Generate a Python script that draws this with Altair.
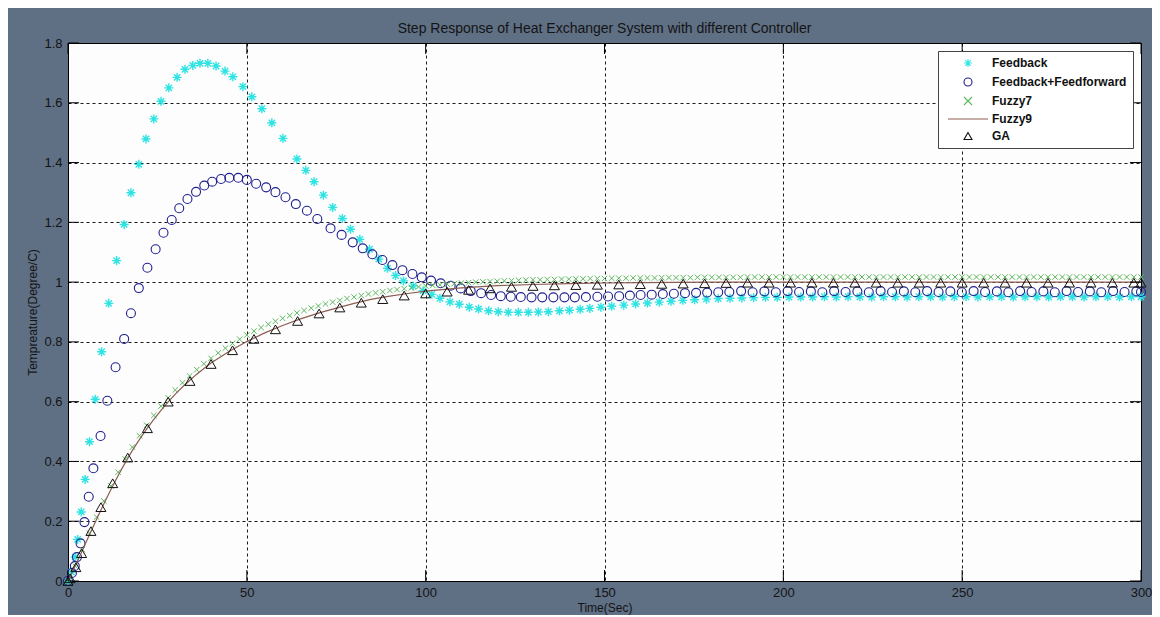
import altair as alt
import pandas as pd

SERIES = ["Feedback", "Feedback+Feedforward", "Fuzzy7", "Fuzzy9", "GA"]
COLORS = ["#2FE3E3", "#1F1F8F", "#5CB85C", "#8B5E52", "#111111"]
ASTERISK = "M-1,0L1,0M0,-1L0,1M-0.7,-0.7L0.7,0.7M-0.7,0.7L0.7,-0.7"
XMARK = "M-1,-1L1,1M-1,1L1,-1"
LINESYM = "M-5,0L5,0"
SHAPES = [ASTERISK, "circle", XMARK, LINESYM, "triangle-up"]
X_TICKS = [0, 50, 100, 150, 200, 250, 300]
Y_TICKS = [0, 0.2, 0.4, 0.6, 0.8, 1, 1.2, 1.4, 1.6, 1.8]

FEEDBACK = [
    (0, 0), (1.0, 0.030), (2.0, 0.080), (2.7, 0.139), (3.7, 0.231), (4.8, 0.340), (6.0, 0.466),
    (7.6, 0.608), (9.4, 0.767), (11.4, 0.929), (13.6, 1.072), (15.7, 1.193), (17.6, 1.299),
    (19.8, 1.394), (21.8, 1.479), (24.0, 1.546), (26.0, 1.605), (28.2, 1.650), (30.5, 1.685),
    (32.7, 1.712), (34.9, 1.725), (36.9, 1.732), (39.1, 1.732), (41.4, 1.723), (43.9, 1.706),
    (46.1, 1.687), (48.9, 1.654), (51.4, 1.620), (54.2, 1.580), (57.0, 1.533), (60.1, 1.481),
    (64.0, 1.412), (66.5, 1.374), (68.8, 1.336), (71.4, 1.291), (74.0, 1.250), (76.7, 1.213),
    (79.0, 1.177), (81.6, 1.143), (84.3, 1.110), (86.9, 1.077), (89.3, 1.046), (91.6, 1.022),
    (93.8, 1.004), (96.5, 0.987), (99.3, 0.971), (101.7, 0.959), (104.0, 0.946), (106.8, 0.934),
    (109.4, 0.926), (112.2, 0.916), (114.8, 0.910), (117.6, 0.904), (120.3, 0.901), (123.1, 0.899),
    (125.9, 0.899), (128.7, 0.899), (131.5, 0.900), (134.3, 0.901), (137.4, 0.904), (140.2, 0.906),
    (143.2, 0.909), (145.9, 0.912), (149.0, 0.916), (152.0, 0.919), (155.4, 0.923), (158.7, 0.927),
    (162.0, 0.930), (165.3, 0.933), (168.6, 0.936), (171.9, 0.939), (175.2, 0.941), (178.5, 0.943),
    (181.8, 0.945), (185.1, 0.946), (188.4, 0.947), (191.7, 0.948), (195.0, 0.949), (198.3, 0.949),
    (201.6, 0.950), (204.9, 0.950), (208.2, 0.950), (211.5, 0.951), (214.8, 0.950), (218.1, 0.951),
    (221.4, 0.951), (224.7, 0.950), (228.0, 0.951), (231.3, 0.951), (234.6, 0.950), (237.9, 0.951),
    (241.2, 0.951), (244.5, 0.950), (247.8, 0.951), (251.1, 0.951), (254.4, 0.950), (257.7, 0.951),
    (261.0, 0.951), (264.3, 0.950), (267.6, 0.951), (270.9, 0.951), (274.2, 0.950), (277.5, 0.951),
    (280.8, 0.951), (284.1, 0.950), (287.4, 0.951), (290.7, 0.951), (294.0, 0.950), (297.3, 0.951),
    (300.0, 0.951),
]

FEEDFORWARD = [
    (0, 0), (1.1, 0.027), (1.9, 0.050), (2.5, 0.080), (3.5, 0.126), (4.6, 0.197), (5.8, 0.282),
    (7.1, 0.377), (9.1, 0.485), (11.0, 0.603), (13.3, 0.715), (15.7, 0.810), (17.6, 0.896),
    (19.8, 0.980), (22.2, 1.048), (24.5, 1.110), (26.7, 1.165), (29.0, 1.208), (31.1, 1.247),
    (33.4, 1.278), (35.8, 1.302), (38.1, 1.323), (40.3, 1.336), (42.8, 1.345), (45.1, 1.349),
    (47.6, 1.349), (50.0, 1.342), (52.6, 1.329), (55.4, 1.317), (58.0, 1.301), (60.8, 1.284),
    (63.7, 1.261), (66.8, 1.239), (69.7, 1.211), (73.4, 1.180), (76.5, 1.158), (79.6, 1.133),
    (82.4, 1.113), (85.1, 1.093), (87.9, 1.074), (90.7, 1.057), (93.5, 1.040), (96.3, 1.027),
    (98.9, 1.016), (101.5, 1.005), (104.2, 0.996), (107.0, 0.988), (109.8, 0.979), (112.6, 0.970),
    (115.5, 0.963), (118.3, 0.957), (121.0, 0.953), (123.8, 0.951), (126.6, 0.950), (129.6, 0.949),
    (132.6, 0.949), (135.7, 0.949), (138.8, 0.949), (141.7, 0.949), (144.8, 0.950), (148.0, 0.951),
    (151.0, 0.952), (154.1, 0.953), (157.1, 0.955), (160.1, 0.957), (163.2, 0.958), (166.3, 0.960),
    (169.4, 0.961), (172.5, 0.963), (175.6, 0.964), (178.7, 0.965), (181.8, 0.966), (184.9, 0.967),
    (188.2, 0.970), (191.4, 0.966), (194.7, 0.969), (197.9, 0.966), (201.2, 0.970), (204.4, 0.967),
    (207.7, 0.969), (210.9, 0.966), (214.2, 0.970), (217.4, 0.967), (220.7, 0.969), (223.9, 0.966),
    (227.2, 0.970), (230.4, 0.967), (233.7, 0.969), (236.9, 0.966), (240.2, 0.970), (243.4, 0.967),
    (246.7, 0.969), (249.9, 0.966), (253.2, 0.970), (256.4, 0.967), (259.7, 0.969), (262.9, 0.966),
    (266.2, 0.970), (269.4, 0.967), (272.7, 0.969), (275.9, 0.966), (279.2, 0.970), (282.4, 0.967),
    (285.7, 0.969), (288.9, 0.966), (292.2, 0.970), (295.4, 0.967), (298.7, 0.969), (300.0, 0.967),
]

FUZZY7 = [
    (0, 0.000), (2, 0.050), (4, 0.105), (6, 0.160), (8, 0.214), (10, 0.268), (12, 0.318),
    (14, 0.364), (16, 0.408), (18, 0.448), (20, 0.486), (22, 0.521), (24, 0.554), (26, 0.585),
    (28, 0.613), (30, 0.639), (32, 0.663), (34, 0.686), (36, 0.707), (38, 0.727), (40, 0.745),
    (42, 0.763), (44, 0.779), (46, 0.795), (48, 0.809), (50, 0.823), (52, 0.836), (54, 0.848),
    (56, 0.859), (58, 0.869), (60, 0.879), (62, 0.888), (64, 0.897), (66, 0.905), (68, 0.913),
    (70, 0.920), (72, 0.927), (74, 0.933), (76, 0.939), (78, 0.945), (80, 0.950), (82, 0.955),
    (84, 0.960), (86, 0.964), (88, 0.968), (90, 0.972), (92, 0.975), (94, 0.978), (96, 0.981),
    (98, 0.984), (100, 0.987), (102, 0.989), (104, 0.991), (106, 0.993), (108, 0.995), (110, 0.997),
    (112, 0.998), (114, 1.000), (116, 1.001), (118, 1.002), (120, 1.003), (122, 1.004), (124, 1.005),
    (126, 1.006), (128, 1.007), (130, 1.008), (132, 1.008), (134, 1.009), (136, 1.009), (138, 1.010),
    (140, 1.010), (142, 1.011), (144, 1.011), (146, 1.012), (148, 1.012), (150, 1.012), (152, 1.013),
    (154, 1.013), (156, 1.013), (158, 1.014), (160, 1.014), (162, 1.014), (164, 1.014), (166, 1.015),
    (168, 1.015), (170, 1.015), (172, 1.015), (174, 1.015), (176, 1.016), (178, 1.016), (180, 1.016),
    (182, 1.016), (184, 1.016), (186, 1.016), (188, 1.016), (190, 1.017), (192, 1.017), (194, 1.017),
    (196, 1.017), (198, 1.017), (200, 1.017), (202, 1.017), (204, 1.017), (206, 1.017), (208, 1.017),
    (210, 1.017), (212, 1.017), (214, 1.017), (216, 1.017), (218, 1.017), (220, 1.017), (222, 1.017),
    (224, 1.017), (226, 1.017), (228, 1.017), (230, 1.017), (232, 1.017), (234, 1.017), (236, 1.017),
    (238, 1.017), (240, 1.017), (242, 1.017), (244, 1.017), (246, 1.017), (248, 1.017), (250, 1.017),
    (252, 1.017), (254, 1.017), (256, 1.017), (258, 1.017), (260, 1.017), (262, 1.017), (264, 1.017),
    (266, 1.017), (268, 1.017), (270, 1.017), (272, 1.017), (274, 1.017), (276, 1.017), (278, 1.017),
    (280, 1.017), (282, 1.017), (284, 1.017), (286, 1.017), (288, 1.017), (290, 1.017), (292, 1.017),
    (294, 1.017), (296, 1.017), (298, 1.017), (300, 1.017),
]

FUZZY9 = [
    (0, 0.000), (2, 0.050), (4, 0.102), (6, 0.155), (8, 0.207), (10, 0.258), (12, 0.306),
    (14, 0.352), (16, 0.396), (18, 0.437), (20, 0.474), (22, 0.509), (24, 0.541), (26, 0.571),
    (28, 0.599), (30, 0.625), (32, 0.649), (34, 0.671), (36, 0.692), (38, 0.711), (40, 0.729),
    (45, 0.768), (50, 0.801), (55, 0.830), (60, 0.855), (65, 0.877), (70, 0.896), (75, 0.913),
    (80, 0.929), (85, 0.943), (90, 0.953), (95, 0.962), (100, 0.970), (110, 0.981), (120, 0.988),
    (130, 0.992), (140, 0.995), (150, 0.997), (160, 0.998), (170, 0.999), (180, 1.000),
    (200, 1.000), (225, 1.000), (250, 1.000), (275, 1.000), (300, 1.000),
]

GA = [
    (0, 0.000), (0.6, 0.009), (2.2, 0.046), (3.8, 0.093), (6.4, 0.167), (9.2, 0.247), (12.5, 0.327),
    (16.7, 0.413), (22.2, 0.511), (28.0, 0.600), (34.1, 0.669), (40.0, 0.726), (46.0, 0.772),
    (52.0, 0.810), (58.0, 0.842), (64.2, 0.870), (70.2, 0.895), (76.0, 0.915), (82.0, 0.931),
    (88.0, 0.943), (94.0, 0.955), (100.0, 0.962), (106.0, 0.968), (112.0, 0.974), (118.0, 0.979),
    (124.0, 0.984), (130.0, 0.987), (136.0, 0.989), (142.0, 0.990), (148.0, 0.991), (154.0, 0.992),
    (160.0, 0.993), (166.0, 0.994), (172.0, 0.995), (178.0, 0.996), (184.0, 0.997), (190.0, 0.998),
    (196.0, 0.998), (202.0, 0.998), (208.0, 0.998), (214.0, 0.998), (220.0, 0.998), (226.0, 0.998),
    (232.0, 0.998), (238.0, 0.998), (244.0, 0.998), (250.0, 0.998), (256.0, 0.998), (262.0, 0.998),
    (268.0, 0.998), (274.0, 0.998), (280.0, 0.998), (286.0, 0.998), (292.0, 0.998), (298.0, 0.998),
    (300.0, 0.998),
]


def frame(name, pairs):
    return pd.DataFrame({"series": name, "t": [p[0] for p in pairs], "v": [p[1] for p in pairs]})


W, H = 1073, 538
TICK = 11
FONT = "Liberation Sans"
TXT = "#141414"

xsc = alt.Scale(domain=[0, 300], nice=False, zero=False)
ysc = alt.Scale(domain=[0, 1.8], nice=False, zero=False)

X = alt.X("t:Q", scale=xsc, axis=alt.Axis(values=X_TICKS, title="Time(Sec)", format="d"))
Y = alt.Y("v:Q", scale=ysc, axis=alt.Axis(values=Y_TICKS, title="Tempreature(Degree/C)", format="~g"))

legend = alt.Legend(
    title=None, orient="none", legendX=870, legendY=8,
    fillColor="white", strokeColor="#444444", padding=6, cornerRadius=0,
    symbolOffset=18, labelOffset=18, symbolSize=64, symbolStrokeWidth=1.1,
    labelFont=FONT, labelFontSize=12, labelFontWeight="bold", labelColor="#111111",
    rowPadding=5,
)
COLOR = alt.Color("series:N", scale=alt.Scale(domain=SERIES, range=COLORS), legend=legend)
SHAPE = alt.Shape("series:N", scale=alt.Scale(domain=SERIES, range=SHAPES), legend=legend)


def pts(name, pairs, size, sw):
    return alt.Chart(frame(name, pairs)).mark_point(
        filled=False, size=size, strokeWidth=sw, opacity=1
    ).encode(x=X, y=Y, color=COLOR, shape=SHAPE)


fb = pts("Feedback", FEEDBACK, 81, 1.4)
ff = pts("Feedback+Feedforward", FEEDFORWARD, 80, 1.1)
f7 = pts("Fuzzy7", FUZZY7, 30, 1.0)
ga = pts("GA", GA, 100, 1.0)

f9 = alt.Chart(frame("Fuzzy9", FUZZY9)).mark_line(
    color=COLORS[3], strokeWidth=1.2
).encode(x=X, y=Y)

xt = pd.DataFrame({"t": X_TICKS})
yt = pd.DataFrame({"v": Y_TICKS})
tick_b = alt.Chart(xt).mark_rule(color="black", strokeWidth=1).encode(x=X, y=alt.value(H), y2=alt.value(H - TICK))
tick_t = alt.Chart(xt).mark_rule(color="black", strokeWidth=1).encode(x=X, y=alt.value(0), y2=alt.value(TICK))
tick_l = alt.Chart(yt).mark_rule(color="black", strokeWidth=1).encode(y=Y, x=alt.value(0), x2=alt.value(TICK))
tick_r = alt.Chart(yt).mark_rule(color="black", strokeWidth=1).encode(y=Y, x=alt.value(W - TICK), x2=alt.value(W))

chart = alt.layer(fb, ff, f7, f9, ga, tick_b, tick_t, tick_l, tick_r).properties(
    width=W, height=H,
    title=alt.TitleParams(
        "Step Response of Heat Exchanger System with different Controller",
        font=FONT, fontSize=14, fontWeight="normal", color=TXT, offset=1, anchor="middle",
    ),
    padding={"left": 60, "top": 35, "right": 11, "bottom": 34},
    autosize=alt.AutoSizeParams(type="none"),
    background="#5F6F84",
).configure_view(
    stroke="black", strokeWidth=1, fill="#FDFDFD"
).configure_axis(
    grid=True, gridColor="#000000", gridDash=[3, 3], gridOpacity=0.9, gridWidth=1,
    domain=False, ticks=False, labelOverlap=False,
    labelFont=FONT, labelFontSize=13, labelColor=TXT,
    titleFont=FONT, titleFontSize=12, titleFontWeight="normal", titleColor=TXT,
).configure_axisX(
    labelPadding=5, titlePadding=3, labelFlush=False
).configure_axisY(
    labelPadding=6, titlePadding=4
)

chart.save("out.html", embed_options={"renderer": "svg", "actions": False})
